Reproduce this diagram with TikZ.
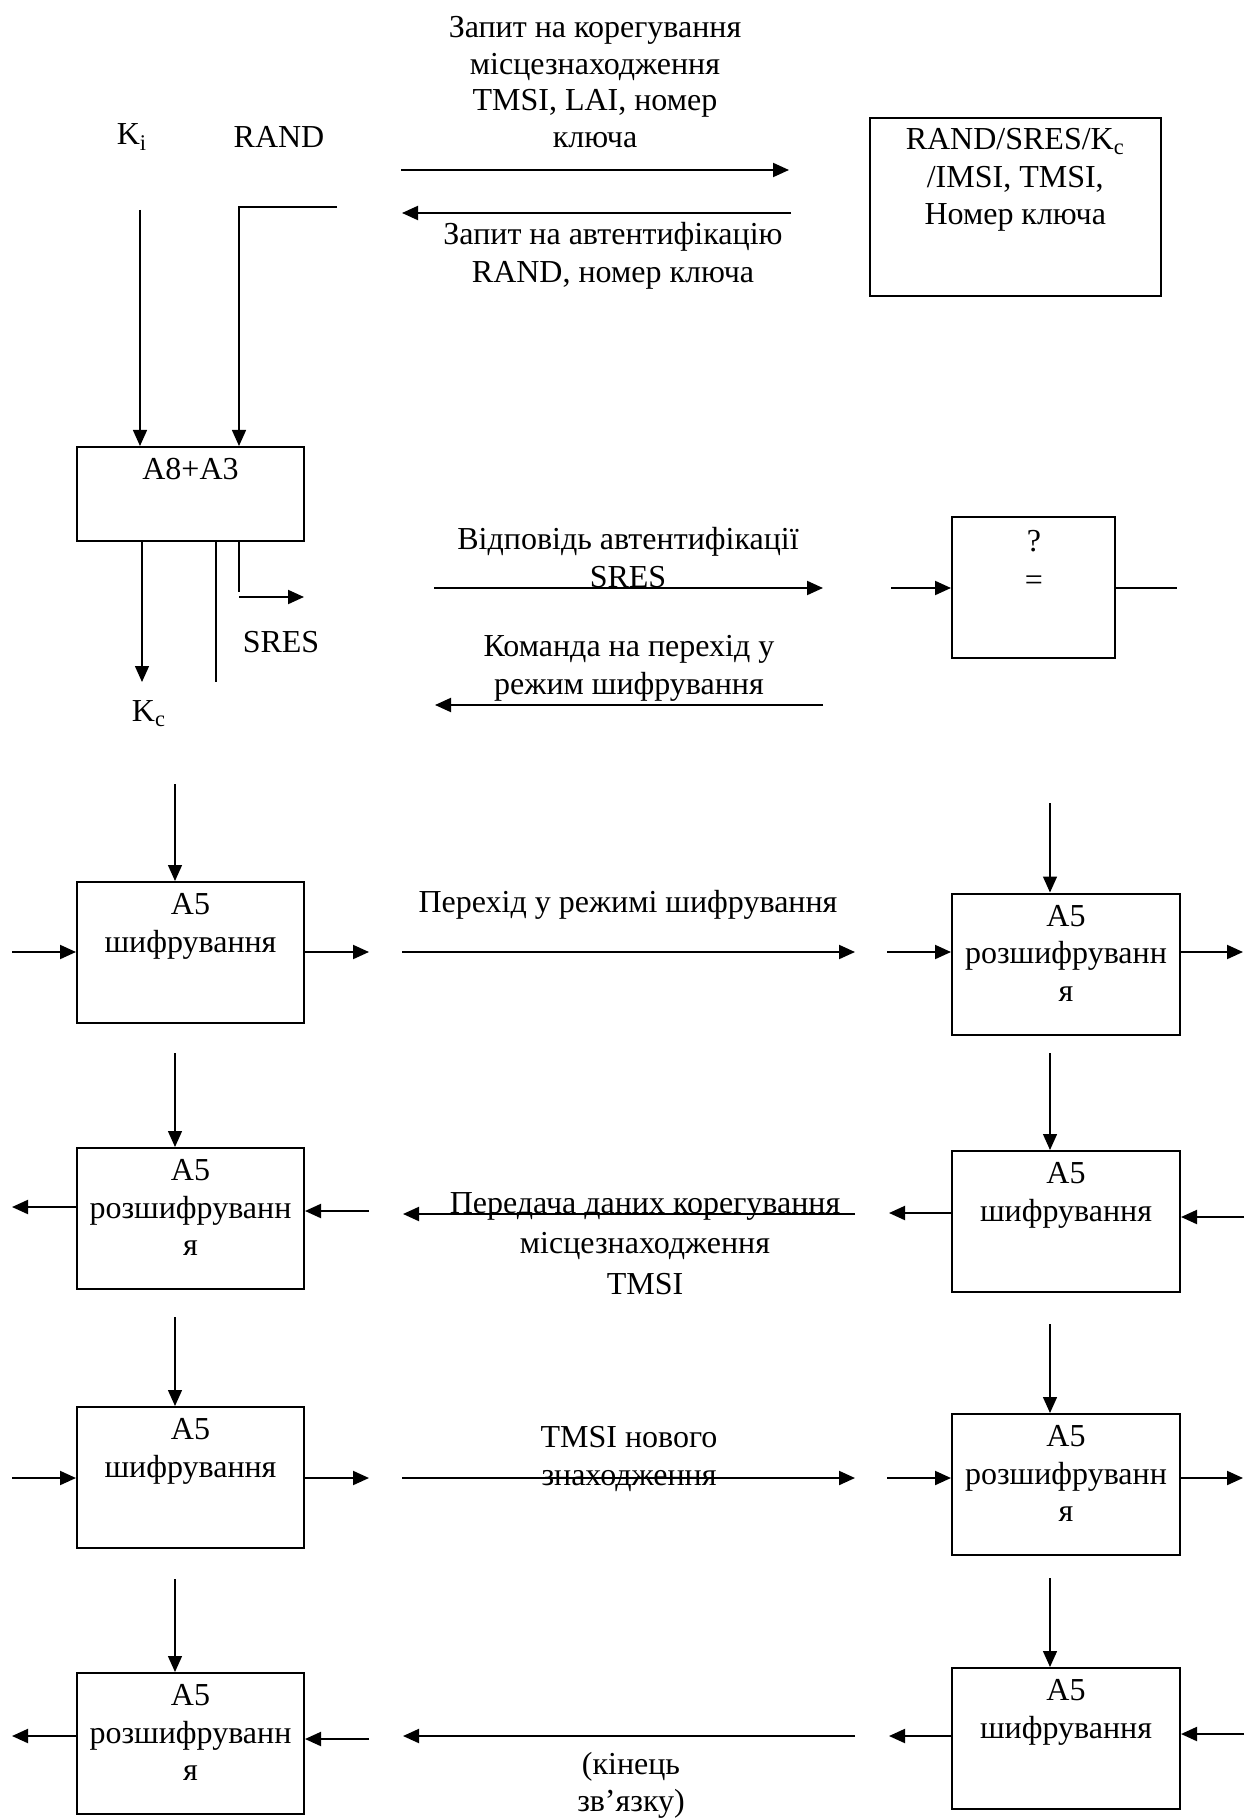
\documentclass[tikz,border=0pt]{standalone}
\usepackage{fontspec}
\setmainfont{Liberation Serif}
\usetikzlibrary{arrows.meta,calc}
\begin{document}
\begin{tikzpicture}[x=0.5pt,y=-0.5pt,
  txt/.style={font=\fontsize{16}{18.75}\selectfont, align=center, inner sep=0pt},
  boxtxt/.style={txt, anchor=north},
  blk/.style={draw, line width=1pt, minimum width=113.5pt, minimum height=70.5pt, inner sep=0pt},
  rblk/.style={blk, minimum width=114pt},
  wire/.style={line width=1pt},
  thin/.style={line width=0.7pt},
  tip/.style={-{Triangle[length=8pt,width=7pt]}},
]
\useasboundingbox (0,0) rectangle (1244,1818);

% ---------- key inputs and the authentication request exchange ----------
\node[txt] (kiL) at (132,137) {K\textsubscript{i}};
\node[txt] (randL) at (279,137) {RAND};
\node[txt, anchor=north, font=\fontsize{16}{18.3}\selectfont] (req1) at (595,16) {Запит на корегування\\місцезнаходження\\TMSI, LAI, номер\\ключа};
\node[txt, anchor=north] (req2) at (613,222) {Запит на автентифікацію\\RAND, номер ключа};
\node[draw, line width=1pt, minimum width=145.75pt, minimum height=89pt, inner sep=0pt] (vlr) at (1015.25,207) {};
\node[boxtxt] (vlrT) at ($(vlr.north)+(0,11)$) {RAND/SRES/K\textsubscript{c}\\/IMSI, TMSI,\\Номер ключа};

\coordinate (q1s) at (401,170); \coordinate (q1e) at (789,170);
\draw[wire,tip] (q1s) -- (q1e);
\coordinate (q2s) at (791,213); \coordinate (q2e) at (402,213);
\draw[wire,tip] (q2s) -- (q2e);

% ---------- A8+A3 block ----------
\node[blk, minimum height=47pt] (a8) at (190.5,494) {};
\node[boxtxt] (a8T) at ($(a8.north)+(0,12)$) {A8+A3};

\coordinate (kiTop) at (140,210);
\draw[thin,tip] (kiTop) -- (kiTop |- a8.north);
\coordinate (randE) at (337,207);
\coordinate (randC) at (239,207);
\draw[thin,tip] (randE) -- (randC) -- (randC |- a8.north);

\coordinate (kcEnd) at (142,682);
\draw[thin,tip] (kcEnd |- a8.south) -- (kcEnd);
\coordinate (midEnd) at (216,682);
\draw[thin] (midEnd |- a8.south) -- (midEnd);
\coordinate (sresV) at (239,592);
\draw[thin] (sresV |- a8.south) -- (sresV);
\coordinate (sresA) at (239,597); \coordinate (sresB) at (304,597);
\draw[wire,tip] (sresA) -- (sresB);
\node[txt] (sresL) at (281,642) {SRES};
\node[txt] (kcL) at (149,714) {K\textsubscript{c}};

% ---------- authentication response and cipher command ----------
\node[txt, anchor=north] (resp) at (628,527) {Відповідь автентифікації\\SRES};
\coordinate (r1s) at (434,588); \coordinate (r1e) at (823,588);
\draw[wire,tip] (r1s) -- (r1e);
\node[txt, anchor=north] (cmd) at (629,635) {Команда на перехід у\\режим шифрування};
\coordinate (c1s) at (823,705); \coordinate (c1e) at (435,705);
\draw[wire,tip] (c1s) -- (c1e);

\node[draw, line width=1pt, minimum width=81.5pt, minimum height=70.5pt, inner sep=0pt] (cmp) at (1033.5,587.5) {};
\node[txt] (qm) at (1034,541) {?};
\node[txt] (eqm) at (1034,583) {=};
\coordinate (cmpIn) at (891,588);
\draw[wire,tip] (cmpIn) -- (cmpIn -| cmp.west);
\coordinate (cmpOut) at (1177,588);
\draw[wire] (cmpOut -| cmp.east) -- (cmpOut);

% ---------- A5 blocks ----------
\node[blk] (L1) at (190.5,952.5) {};
\node[blk] (L2) at (190.5,1218.5) {};
\node[blk] (L3) at (190.5,1477.5) {};
\node[blk] (L4) at (190.5,1743.5) {};
\node[rblk] (R1) at (1066,964) {};
\node[rblk] (R2) at (1066,1221.5) {};
\node[rblk] (R3) at (1066,1484.5) {};
\node[rblk] (R4) at (1066,1738.5) {};

\node[boxtxt] (L1t) at ($(L1.north)+(0,12)$) {A5\\шифрування};
\node[boxtxt] (L2t) at ($(L2.north)+(0,12)$) {A5\\розшифруванн\\я};
\node[boxtxt] (L3t) at ($(L3.north)+(0,12)$) {A5\\шифрування};
\node[boxtxt] (L4t) at ($(L4.north)+(0,12)$) {A5\\розшифруванн\\я};
\node[boxtxt] (R1t) at ($(R1.north)+(0,12)$) {A5\\розшифруванн\\я};
\node[boxtxt] (R2t) at ($(R2.north)+(0,12)$) {A5\\шифрування};
\node[boxtxt] (R3t) at ($(R3.north)+(0,12)$) {A5\\розшифруванн\\я};
\node[boxtxt] (R4t) at ($(R4.north)+(0,12)$) {A5\\шифрування};

% key feeds into the A5 blocks
\coordinate (vL1) at (175,784);  \draw[thin,tip] (vL1) -- (vL1 |- L1.north);
\coordinate (vR1) at (1050,803); \draw[thin,tip] (vR1) -- (vR1 |- R1.north);
\coordinate (vL2) at (175,1053); \draw[thin,tip] (vL2) -- (vL2 |- L2.north);
\coordinate (vR2) at (1050,1053);\draw[thin,tip] (vR2) -- (vR2 |- R2.north);
\coordinate (vL3) at (175,1317); \draw[thin,tip] (vL3) -- (vL3 |- L3.north);
\coordinate (vR3) at (1050,1324);\draw[thin,tip] (vR3) -- (vR3 |- R3.north);
\coordinate (vL4) at (175,1579); \draw[thin,tip] (vL4) -- (vL4 |- L4.north);
\coordinate (vR4) at (1050,1578);\draw[thin,tip] (vR4) -- (vR4 |- R4.north);

% row 1: ciphering mode
\node[txt] (mode) at (628,905) {Перехід у режимі шифрування};
\coordinate (h1a) at (12,952);   \draw[wire,tip] (h1a) -- (h1a -| L1.west);
\coordinate (h1b) at (369,952);  \draw[wire,tip] (h1b -| L1.east) -- (h1b);
\coordinate (h1c) at (402,952);  \coordinate (h1d) at (855,952);
\draw[wire,tip] (h1c) -- (h1d);
\coordinate (h1e) at (887,952);  \draw[wire,tip] (h1e) -- (h1e -| R1.west);
\coordinate (h1f) at (1243,952); \draw[wire,tip] (h1f -| R1.east) -- (h1f);

% row 2: location update data
\node[txt, anchor=north, font=\fontsize{16}{20.25}\selectfont] (upd) at (645,1192) {Передача даних корегування\\місцезнаходження\\TMSI};
\coordinate (h2a) at (12,1207);  \draw[wire,tip] (h2a -| L2.west) -- (h2a);
\coordinate (h2b) at (369,1211); \draw[wire,tip] (h2b) -- (h2b -| L2.east);
\coordinate (h2c) at (855,1214); \coordinate (h2d) at (403,1214);
\draw[wire,tip] (h2c) -- (h2d);
\coordinate (h2e) at (889,1213); \draw[wire,tip] (h2e -| R2.west) -- (h2e);
\coordinate (h2f) at (1244,1217);\draw[wire,tip] (h2f) -- (h2f -| R2.east);

% row 3: new TMSI
\node[txt, anchor=north] (newt) at (629,1426) {TMSI нового\\знаходження};
\coordinate (h3a) at (12,1478);  \draw[wire,tip] (h3a) -- (h3a -| L3.west);
\coordinate (h3b) at (369,1478); \draw[wire,tip] (h3b -| L3.east) -- (h3b);
\coordinate (h3c) at (402,1478); \coordinate (h3d) at (855,1478);
\draw[wire,tip] (h3c) -- (h3d);
\coordinate (h3e) at (887,1478); \draw[wire,tip] (h3e) -- (h3e -| R3.west);
\coordinate (h3f) at (1243,1478);\draw[wire,tip] (h3f -| R3.east) -- (h3f);

% row 4: end of connection
\node[txt, anchor=north, font=\fontsize{16}{18.5}\selectfont] (endc) at (631,1752) {(кінець\\зв’язку)};
\coordinate (h4a) at (12,1736);  \draw[wire,tip] (h4a -| L4.west) -- (h4a);
\coordinate (h4b) at (369,1739); \draw[wire,tip] (h4b) -- (h4b -| L4.east);
\coordinate (h4c) at (855,1736); \coordinate (h4d) at (403,1736);
\draw[wire,tip] (h4c) -- (h4d);
\coordinate (h4e) at (889,1736); \draw[wire,tip] (h4e -| R4.west) -- (h4e);
\coordinate (h4f) at (1244,1734);\draw[wire,tip] (h4f) -- (h4f -| R4.east);
\end{tikzpicture}
\end{document}
